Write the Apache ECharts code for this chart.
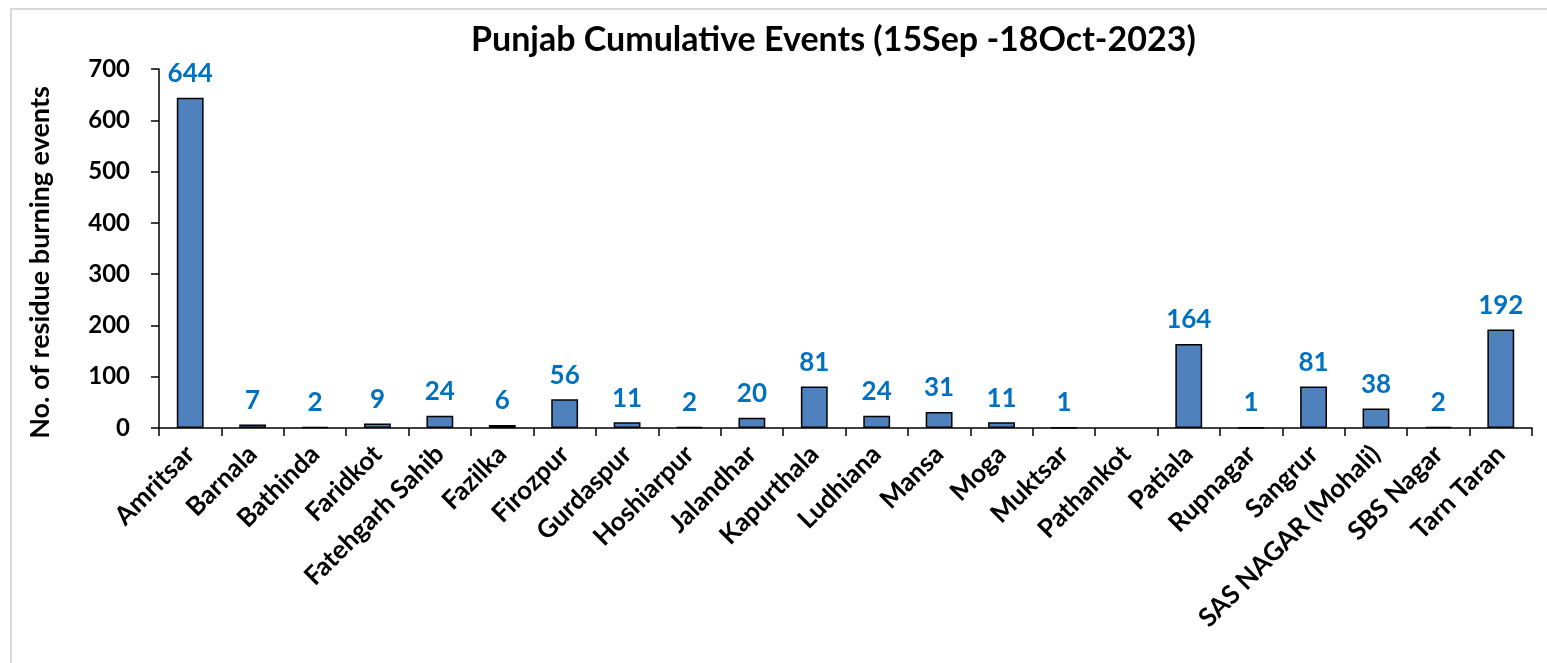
<!DOCTYPE html>
<html>
<head>
<meta charset="utf-8">
<script src="https://cdn.jsdelivr.net/npm/echarts@6/dist/echarts.min.js"></script>
<style>
html,body{margin:0;padding:0;background:#fff;}
#frame{position:absolute;left:10px;top:8px;width:1600px;height:700px;border:2px solid #d9d9d9;box-sizing:border-box;}
#chart{position:absolute;left:0;top:0;width:1547px;height:663px;}
</style>
</head>
<body>
<div id="frame"></div>
<div id="chart"></div>
<script>
const titleText = 'Punjab Cumulative Events (15Sep -18Oct-2023)';
const yAxisName = 'No. of residue burning events';
const districts = ['Amritsar','Barnala','Bathinda','Faridkot','Fatehgarh Sahib','Fazilka','Firozpur','Gurdaspur','Hoshiarpur','Jalandhar','Kapurthala','Ludhiana','Mansa','Moga','Muktsar','Pathankot','Patiala','Rupnagar','Sangrur','SAS NAGAR (Mohali)','SBS Nagar','Tarn Taran'];
const events = [644,7,2,9,24,6,56,11,2,20,81,24,31,11,1,null,164,1,81,38,2,192];
const yMin = 0, yMax = 700, yStep = 100;

const FONT = 'Lato';
const chart = echarts.init(document.getElementById('chart'), null, {renderer:'canvas'});
chart.setOption({
  backgroundColor: 'transparent',
  animation: false,
  title: {
    text: titleText,
    left: 466,
    top: 18,
    textStyle: {fontFamily: FONT, fontWeight: 'bold', fontSize: 34, color: '#000'}
  },
  grid: {left: 159, right: 15, top: 69, bottom: 235, containLabel: false},
  xAxis: {
    type: 'category',
    data: districts,
    axisLine: {lineStyle: {color: '#000', width: 1.5}},
    axisTick: {show: true, length: 8, lineStyle: {color: '#000', width: 1.5}},
    axisLabel: {rotate: 45, interval: 0, margin: 22, fontFamily: FONT, fontWeight: 'bold', fontSize: 26, color: '#000'}
  },
  yAxis: {
    type: 'value',
    min: yMin, max: yMax, interval: yStep,
    name: yAxisName,
    nameLocation: 'middle',
    nameGap: 105,
    nameTextStyle: {fontFamily: FONT, fontWeight: 'bold', fontSize: 27, color: '#000', padding: [0, 28, 0, 0]},
    axisLine: {show: true, lineStyle: {color: '#000', width: 1.5}},
    axisTick: {show: true, length: 8, lineStyle: {color: '#000', width: 1.5}},
    axisLabel: {margin: 29, fontFamily: FONT, fontWeight: 'bold', fontSize: 24, color: '#000'},
    splitLine: {show: false}
  },
  series: [{
    type: 'bar',
    data: events,
    barWidth: '43%',
    itemStyle: {color: '#4F81BD', borderColor: '#000', borderWidth: 1.5},
    label: {show: true, position: 'top', distance: 11, fontFamily: FONT, fontWeight: 'bold', fontSize: 26, color: '#0070C0'}
  }]
});
</script>
</body>
</html>
